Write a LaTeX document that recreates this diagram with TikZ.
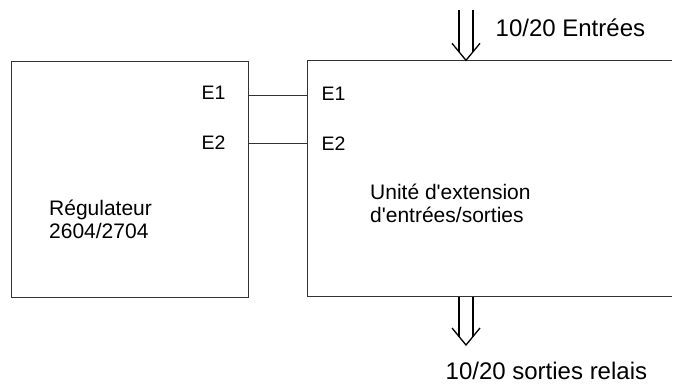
\documentclass[tikz,border=0pt]{standalone}
\usepackage{fontspec}
\setmainfont{Liberation Sans}
\usetikzlibrary{positioning}

% hollow double arrow: #1 = shaft top, #2 = tip
\newcommand{\dblarrow}[2]{%
  \draw[fatarrow] ([xshift=-7pt]#1) -- ([xshift=-7pt,yshift=8.5pt]#2);
  \draw[fatarrow] ([xshift=7pt]#1) -- ([xshift=7pt,yshift=8.5pt]#2);
  \draw[fatarrow] ([xshift=-14pt,yshift=17pt]#2) -- (#2) -- ([xshift=14pt,yshift=17pt]#2);
}

\begin{document}
\begin{tikzpicture}[
  x=1pt, y=-1pt,
  box/.style={draw=black!80, line width=1pt, inner sep=0pt},
  wire/.style={draw=black!80, line width=1pt},
  fatarrow/.style={draw=black, line width=1.3pt, line join=miter},
  port/.style={inner sep=0pt, anchor=base west, font=\fontsize{19.5}{22}\selectfont},
  boxtxt/.style={inner sep=0pt, anchor=base west, align=left, font=\fontsize{21}{23.5}\selectfont},
  iotxt/.style={inner sep=0pt, anchor=base west, font=\fontsize{24}{28}\selectfont}
]
  \useasboundingbox (0,0) rectangle (673,385);

  \node[box, minimum width=236.5pt, minimum height=236pt] (reg) at (129.75,180) {};
  % the extension unit runs off the right edge: no right side drawn
  \node[inner sep=0pt, minimum width=364pt, minimum height=236pt] (ext) at (490,178.5) {};
  \draw[wire] (ext.north east) -- (ext.north west) -- (ext.south west) -- (ext.south east);

  \node[port] (regE1) at (201.5,100) {E1};
  \node[port] (regE2) at (201.5,149.5) {E2};
  \node[port] (extE1) at (321.5,100.5) {E1};
  \node[port] (extE2) at (321.5,151) {E2};

  % base anchor sits on the last line
  \node[boxtxt] (regtxt) at (49,239) {Régulateur\\2604/2704};
  \node[boxtxt] (exttxt) at (370,223) {Unité d\textquotesingle extension\\d\textquotesingle entrées/sorties};

  \coordinate (j1) at (0,96);
  \coordinate (j2) at (0,144);
  \draw[wire] (reg.east |- j1) -- (ext.west |- j1);
  \draw[wire] (reg.east |- j2) -- (ext.west |- j2);

  \node[iotxt] (intxt) at (495.5,37) {10/20 Entrées};
  \coordinate (inTop) at (466,10);
  \coordinate (inTip) at (inTop |- ext.north);
  \dblarrow{inTop}{inTip}

  \node[iotxt] (outtxt) at (445.5,379) {10/20 sorties relais};
  \coordinate (outTip) at (466,345);
  \coordinate (outTop) at (outTip |- ext.south);
  \dblarrow{outTop}{outTip}
\end{tikzpicture}
\end{document}
